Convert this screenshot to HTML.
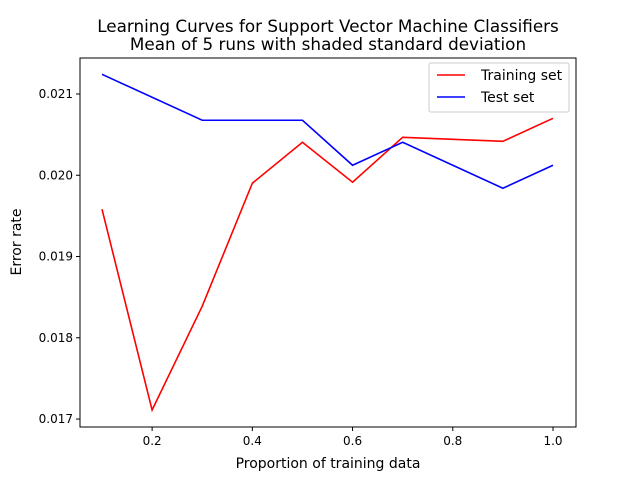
<!DOCTYPE html>
<html><head><meta charset="utf-8"><style>
body{margin:0;background:#fff;}
svg text{font-family:"DejaVu Sans","Liberation Sans",sans-serif;fill:#000;}
</style></head><body>
<svg id="chart" width="640" height="480" xmlns="http://www.w3.org/2000/svg">
<rect width="640" height="480" fill="#fff"/>
<text x="328" y="32" font-size="16.8" text-anchor="middle">Learning Curves for Support Vector Machine Classifiers</text>
<text x="328" y="50" font-size="16.8" text-anchor="middle">Mean of 5 runs with shaded standard deviation</text>
<g id="plot"></g>
<rect x="80" y="58" width="496" height="369" fill="none" stroke="#000" stroke-width="1"/>
<text x="328" y="468" font-size="14" text-anchor="middle">Proportion of training data</text>
<text x="21" y="242" font-size="14" text-anchor="middle" transform="rotate(-90 21 242)">Error rate</text>
<g>
<rect x="429" y="63" width="140" height="49" fill="#fff" stroke="#ccc" rx="2"/>
<line x1="437" y1="75" x2="465" y2="75" stroke="red" stroke-width="1.5"/>
<text x="481" y="80" font-size="14">Training set</text>
<line x1="437" y1="97" x2="465" y2="97" stroke="blue" stroke-width="1.5"/>
<text x="481" y="102" font-size="14">Test set</text>
</g>
</svg>
<script>
const trainX=[0.1,0.2,0.3,0.4,0.5,0.6,0.7,0.9,1.0];
const trainY=[0.019582,0.017111,0.018389,0.019902,0.020406,0.019914,0.020467,0.020418,0.020701];
const testX=[0.1,0.3,0.5,0.6,0.7,0.9,1.0];
const testY=[0.021242,0.020677,0.020677,0.020123,0.020406,0.019840,0.020123];
const xTicks=[0.2,0.4,0.6,0.8,1.0];
const xTickLabels=["0.2","0.4","0.6","0.8","1.0"];
const yTicks=[0.017,0.018,0.019,0.020,0.021];
const yTickLabels=["0.017","0.018","0.019","0.020","0.021"];
const X0=80,X1=576,Y0=427,Y1=58,xmin=0.0561,xmax=1.0459,ymin=0.016902,ymax=0.021443;
const sx=v=>X0+(v-xmin)/(xmax-xmin)*(X1-X0);
const sy=v=>Y0-(v-ymin)/(ymax-ymin)*(Y0-Y1);
const NS="http://www.w3.org/2000/svg";
const g=document.getElementById('plot');
function mk(t,a){const e=document.createElementNS(NS,t);for(const k in a)e.setAttribute(k,a[k]);g.appendChild(e);return e;}
xTicks.forEach((v,i)=>{
  const l=mk('line',{x1:sx(v),x2:sx(v),y1:Y0,y2:Y0+4,stroke:'#000'});
  
  
  const t=mk('text',{x:sx(v),y:Y0+18,'font-size':12,'text-anchor':'middle'});
  t.textContent=xTickLabels[i];
  
  
});
yTicks.forEach((v,i)=>{
  const l=mk('line',{x1:X0-4,x2:X0,y1:sy(v),y2:sy(v),stroke:'#000'});
  
  
  const t=mk('text',{x:X0-7,y:sy(v)+4,'font-size':12,'text-anchor':'end'});
  t.textContent=yTickLabels[i];
  
  
});
const p1=mk('polyline',{points:trainX.map((x,i)=>sx(x)+','+sy(trainY[i])).join(' '),fill:'none',stroke:'red','stroke-width':1.6});


const p2=mk('polyline',{points:testX.map((x,i)=>sx(x)+','+sy(testY[i])).join(' '),fill:'none',stroke:'blue','stroke-width':1.6});


</script>
</body></html>
